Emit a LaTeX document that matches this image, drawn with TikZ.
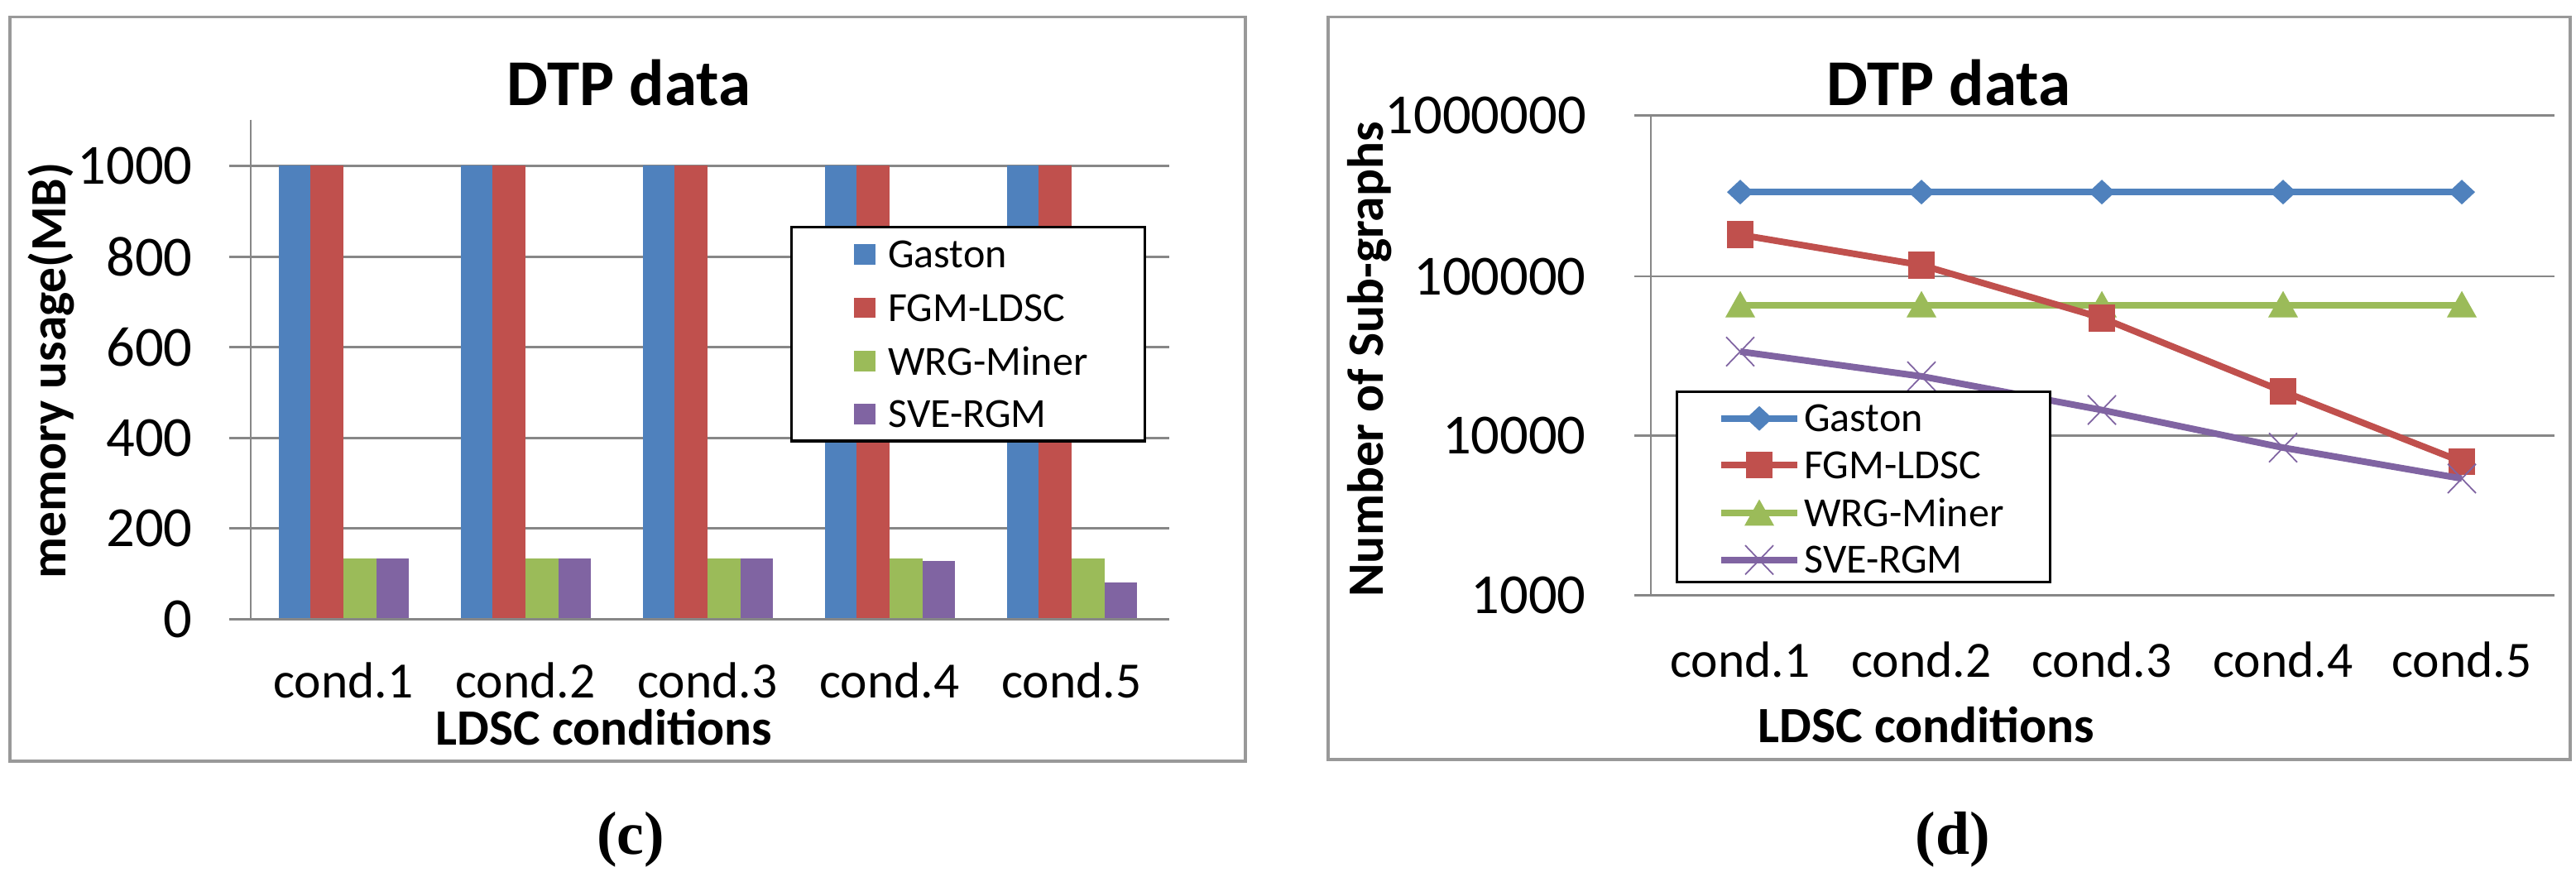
\documentclass[tikz,border=0pt]{standalone}
\usepackage{fontspec}
\setmainfont{Carlito}
\newfontfamily\serifc{Liberation Serif}
\begin{document}
\begin{tikzpicture}[x=0.02cm,y=-0.01358cm,
  grid/.style={draw=black!47,line width=1.6pt},
  frame/.style={draw=black!40,line width=2pt},
  tick/.style={font=\fontsize{39}{39}\selectfont,anchor=east,inner sep=0pt},
  cond/.style={font=\fontsize{35}{35}\selectfont,inner sep=0pt},
  ttl/.style={font=\bfseries\fontsize{45}{45}\selectfont,inner sep=0pt},
  axl/.style={font=\bfseries\fontsize{35}{35}\selectfont,inner sep=0pt},
  leg/.style={font=\fontsize{28.5}{28.5}\selectfont,anchor=west,inner sep=0pt},
  sub/.style={font=\serifc\bfseries\fontsize{42}{42}\selectfont,inner sep=0pt},
  ser/.style={line width=4.5pt},
  mk/.style={line width=1pt}]
\definecolor{cb}{HTML}{4F81BD}\definecolor{cr}{HTML}{C0504D}
\definecolor{cg}{HTML}{9BBB59}\definecolor{cp}{HTML}{8064A2}
\useasboundingbox (0,0) rectangle (3113,1560);
\fill[white] (0,0) rectangle (3113,1560);
% ---------- left chart
\draw[frame] (12,30) rectangle (1505,1355);
\node[ttl] (t1) at (760,148) {DTP data};
\foreach \v/\y in {0/1102,200/941,400/780,600/618,800/457,1000/295}{
  \draw[grid] (277,\y) -- (1413,\y);
  \node[tick] (l\v) at (233,\y) {\v};}
\draw[grid] (303,213) -- (303,1102);
\foreach \k/\p in {0/133,1/133,2/133,3/128,4/80}{
  \pgfmathsetmacro\xo{337+220*\k}
  \fill[cb] (\xo,295) rectangle (\xo+38,1102);
  \fill[cr] (\xo+38,295) rectangle (\xo+78,1102);
  \fill[cg] (\xo+78,{1102-0.807*133}) rectangle (\xo+118,1102);
  \fill[cp] (\xo+118,{1102-0.807*\p}) rectangle (\xo+157,1102);
  \draw[grid] (277,1102) -- (1413,1102);
  \node[cond] (c\k) at (\xo+78,1212) {cond.\the\numexpr\k+1\relax};}
\node[axl,rotate=90] (yl1) at (62,660) {memory usage(MB)};
\node[axl] (xl1) at (730,1295) {LDSC conditions};
\node[draw=black,line width=2pt,fill=white,minimum width=427*0.02cm,minimum height=381*0.01358cm,inner sep=0pt] (lg1) at (1170,595) {};
\foreach \c/\t/\y in {cb/Gaston/453,cr/FGM-LDSC/548,cg/WRG-Miner/643,cp/SVE-RGM/737}{
  \fill[cb!0] (0,0);
  \fill[\c] (1032,\y-18) rectangle (1058,\y+18);
  \node[leg] (e\t) at (1073,\y) {\t};}
\node[sub] (cc) at (762,1495) {(c)};
% ---------- right chart
\draw[frame] (1605,30) rectangle (3106,1352);
\node[ttl] (t2) at (2355,148) {DTP data};
\foreach \v/\y in {1000/1060,10000/776,100000/492,1000000/205}{
  \draw[grid] (1975,\y) -- (3087,\y);
  \node[tick] (r\v) at (1917,\y) {\v};}
\draw[grid] (1995,205) -- (1995,1060);
\foreach \x/\k in {2103/1,2322/2,2540/3,2759/4,2975/5}
  \node[cond] (d\k) at (\x,1175) {cond.\k};
\node[axl,rotate=90] (yl2) at (1655,640) {Number of Sub-graphs};
\node[axl] (xl2) at (2328,1290) {LDSC conditions};
% series
\draw[ser,cb] (2103,342) -- (2975,342);
\foreach \x in {2103,2322,2540,2759,2975}
  \fill[cb] (\x,320) -- (\x+16,342) -- (\x,364) -- (\x-16,342) -- cycle;
\draw[ser,cg] (2103,543) -- (2975,543);
\foreach \x in {2103,2322,2540,2759,2975}
  \fill[cg] (\x,518) -- (\x+18,565) -- (\x-18,565) -- cycle;
\draw[ser,cr] (2103,418) -- (2322,472) -- (2540,566) -- (2759,697) -- (2975,822);
\foreach \x/\y in {2103/418,2322/472,2540/566,2759/697,2975/822}
  \fill[cr] (\x-16,\y-24) rectangle (\x+16,\y+24);
\draw[ser,cp] (2103,626) -- (2322,670) -- (2540,730) -- (2759,797) -- (2975,852);
\foreach \x/\y in {2103/626,2322/670,2540/730,2759/797,2975/852}
  \draw[cp,mk] (\x-17,\y-26) -- (\x+17,\y+26) (\x-17,\y+26) -- (\x+17,\y-26);
\node[draw=black,line width=2pt,fill=white,minimum width=451*0.02cm,minimum height=339*0.01358cm,inner sep=0pt] (lg2) at (2252,867) {};
\draw[ser,cb] (2080,745) -- (2172,745);
\fill[cb] (2126,723) -- (2142,745) -- (2126,767) -- (2110,745) -- cycle;
\draw[ser,cr] (2080,828) -- (2172,828);
\fill[cr] (2110,804) rectangle (2142,852);
\draw[ser,cg] (2080,913) -- (2172,913);
\fill[cg] (2126,889) -- (2144,936) -- (2108,936) -- cycle;
\draw[ser,cp] (2080,997) -- (2172,997);
\draw[cp,mk] (2109,971) -- (2143,1023) (2109,1023) -- (2143,971);
\foreach \t/\y in {Gaston/745,FGM-LDSC/828,WRG-Miner/913,SVE-RGM/997}
  \node[leg] (f\t) at (2180,\y) {\t};
\node[sub] (dd) at (2360,1495) {(d)};
\end{tikzpicture}
\end{document}
